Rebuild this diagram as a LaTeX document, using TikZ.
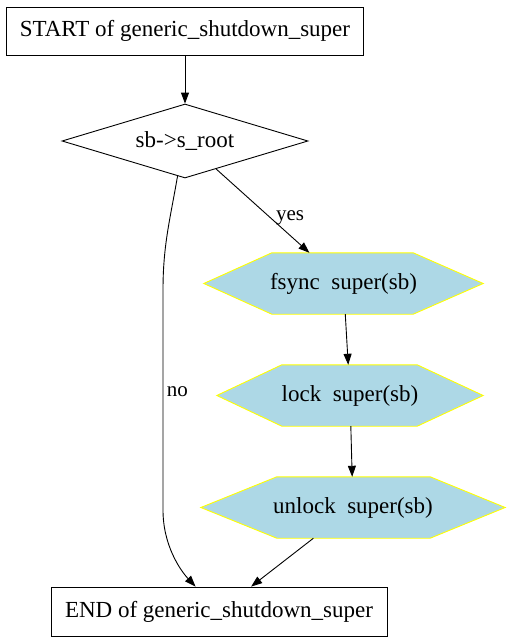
\documentclass[tikz,border=0pt]{standalone}
\usepackage{fontspec}
\setmainfont{Liberation Serif}
\usetikzlibrary{shapes.geometric,arrows.meta,backgrounds}
\definecolor{lblue}{RGB}{173,216,230}
\definecolor{hexyellow}{RGB}{255,255,0}
\tikzset{
  x=1pt,y=1pt,
  every node/.style={font=\fontsize{23}{26}\selectfont},
  box/.style={draw,rectangle,line width=0.9pt,inner sep=0pt},
  decision/.style={draw,diamond,aspect=3.32,line width=0.9pt,inner sep=0pt,minimum width=246pt,minimum height=74pt},
  hexnode/.style={rectangle,inner sep=0pt,minimum height=61pt},
  hexline/.style={draw=hexyellow,fill=lblue,line width=0.9pt},
  edge/.style={line width=0.9pt,-{Triangle[length=11pt,width=8pt]}},
  elabel/.style={font=\fontsize{21}{24}\selectfont}
}
\begin{document}
\begin{tikzpicture}
\useasboundingbox (0,0) rectangle (511,-643);
\node[box,minimum width=357pt,minimum height=48pt] (start) at (185,-31) {START of generic\_shutdown\_super};
\node[decision] (d) at (185,-141) {sb->s\_root};
\node[hexnode,minimum width=279pt] (f) at (343.5,-283.5) {fsync\ \ super(sb)};
\node[hexnode,minimum width=266pt] (l) at (350,-395.5) {lock\ \ super(sb)};
\node[hexnode,minimum width=304pt] (u) at (353,-507.5) {unlock\ \ super(sb)};
\node[box,minimum width=336pt,minimum height=49pt] (e) at (219,-611.5) {END of generic\_shutdown\_super};
\begin{scope}[on background layer]
\draw[hexline] (f.west) -- ([xshift=68pt]f.north west) -- ([xshift=-70pt]f.north east) -- (f.east) -- ([xshift=-70pt]f.south east) -- ([xshift=68pt]f.south west) -- cycle;
\draw[hexline] (l.west) -- ([xshift=65pt]l.north west) -- ([xshift=-66pt]l.north east) -- (l.east) -- ([xshift=-66pt]l.south east) -- ([xshift=65pt]l.south west) -- cycle;
\draw[hexline] (u.west) -- ([xshift=76pt]u.north west) -- ([xshift=-75pt]u.north east) -- (u.east) -- ([xshift=-75pt]u.south east) -- ([xshift=76pt]u.south west) -- cycle;
\end{scope}
\draw[edge] (start) -- (d);
\draw[edge] (d) -- node[elabel,pos=0.58,right=2pt] {yes} (f);
\draw[edge] (f) -- (l);
\draw[edge] (l) -- (u);
\draw[edge] (u) -- (e);
\draw[edge] (d.-102) .. controls (170,-220) and (163,-245) .. (163,-290)
  -- node[elabel,pos=0.46,right=0pt] {no} (163,-510)
  .. controls (163,-545) and (180,-570) .. (e);
\end{tikzpicture}
\end{document}
